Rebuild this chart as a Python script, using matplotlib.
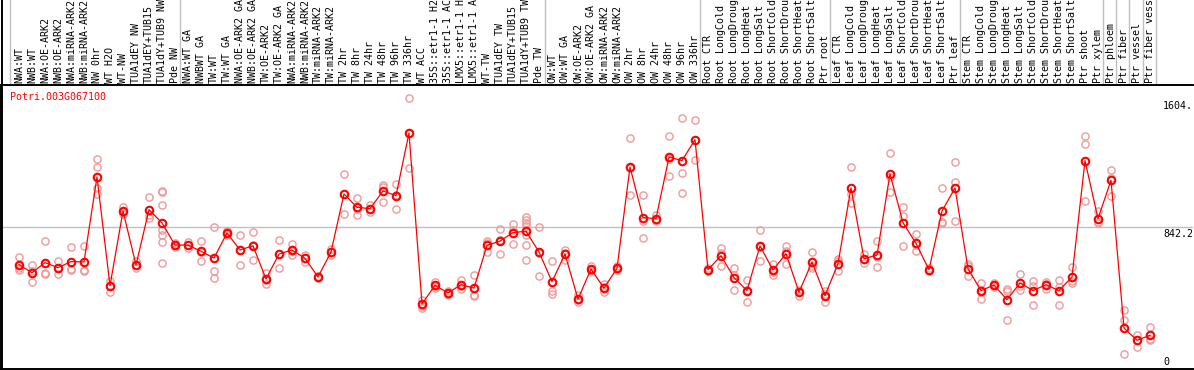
import matplotlib
matplotlib.use("Agg")
import matplotlib.pyplot as plt
from matplotlib.lines import Line2D
from matplotlib import transforms

gene = "Potri.003G067100"

labels = [
    "NWA:WT", "NWB:WT", "NWA:OE-ARK2", "NWB:OE-ARK2", "NWA:miRNA-ARK2",
    "NWB:miRNA-ARK2", "NW 0hr", "WT H2O", "WT-NW", "TUA1dEY NW",
    "TUA1dEY+TUB15", "TUA1dY+TUB9 NW", "Pde NW",
    "NWA:WT GA", "NWBWT GA", "TW:WT", "TW:WT GA", "NWA:OE-ARK2 GA",
    "NWB:OE-ARK2 GA", "TW:OE-ARK2", "TW:OE-ARK2 GA", "NWA:miRNA-ARK2",
    "NWB:miRNA-ARK2", "TW:miRNA-ARK2", "TW:miRNA-ARK2", "TW 2hr", "TW 8hr",
    "TW 24hr", "TW 48hr", "TW 96hr", "TW 336hr", "WT ACC", "35S::etr1-1 H2",
    "35S::etr1-1 AC", "LMX5::etr1-1 H", "LMX5::etr1-1 A", "WT-TW",
    "TUA1dEY TW", "TUA1dEY+TUB15", "TUA1dY+TUB9 TW", "Pde TW",
    "OW:WT", "OW:WT GA", "OW:OE-ARK2", "OW:OE-ARK2 GA", "OW:miRNA-ARK2",
    "OW:miRNA-ARK2", "OW 2hr", "OW 8hr", "OW 24hr", "OW 48hr", "OW 96hr",
    "OW 336hr",
    "Root CTR", "Root LongCold", "Root LongDroug", "Root LongHeat",
    "Root LongSalt", "Root ShortCold", "Root ShortDrou", "Root ShortHeat",
    "Root ShortSalt", "Ptr root",
    "Leaf CTR", "Leaf LongCold", "Leaf LongDroug", "Leaf LongHeat",
    "Leaf LongSalt", "Leaf ShortCold", "Leaf ShortDrou", "Leaf ShortHeat",
    "Leaf ShortSalt", "Ptr leaf",
    "Stem CTR", "Stem LongCold", "Stem LongDroug", "Stem LongHeat",
    "Stem LongSalt", "Stem ShortCold", "Stem ShortDrou", "Stem ShortHeat",
    "Stem ShortSalt", "Ptr shoot", "Ptr xylem",
    "Ptr phloem", "Ptr fiber", "Ptr vessel", "Ptr fiber vess",
]

means = [
    619, 571, 631, 601, 637, 635, 1139, 494, 937, 617, 945, 866, 735,
    735, 698, 658, 807, 706, 731, 534, 682, 706, 656, 546, 694, 1038, 959,
    951, 1056, 1028, 1400, 386, 496, 451, 500, 480, 733, 759, 809, 817, 694,
    518, 682, 415, 593, 480, 597, 1198, 898, 892, 1257, 1236, 1360,
    589, 672, 542, 465, 730, 587, 684, 455, 635, 435,
    625, 1074, 654, 676, 1157, 868, 745, 589, 937, 1074,
    595, 465, 498, 411, 510, 465, 500, 465, 546, 1236, 892,
    1119, 243, 170, 200,
]

reps = [
    [666, 599, 585], [615, 579, 516], [759, 571, 561], [641, 599, 563],
    [724, 595, 589], [731, 589, 583], [1246, 1198, 1074, 1038],
    [520, 490, 457], [961, 929, 919], [639, 615, 597], [1022, 915, 898],
    [1058, 1050, 973, 826, 797, 753, 631], [747, 735, 724],
    [755, 735, 720], [759, 694, 641], [844, 583, 540], [817, 807, 797],
    [797, 706, 615], [813, 735, 646], [569, 530, 504], [765, 682, 599],
    [741, 702, 674], [676, 656, 637], [554, 546, 538], [712, 692, 678],
    [1159, 1038, 919], [1016, 949, 911], [971, 949, 933],
    [1093, 1081, 992], [1099, 1034, 951], [1604.6, 1400, 1192],
    [411, 372, 362], [516, 490, 482], [461, 447, 441], [530, 494, 476],
    [559, 441, 431], [757, 747, 692], [830, 763, 682], [860, 826, 741],
    [900, 886, 866, 846, 793, 735, 646], [842, 688, 552],
    [641, 465, 443], [708, 688, 648], [441, 407, 399], [613, 587, 579],
    [502, 484, 455], [609, 593, 589], [1370, 1192, 1032], [1032, 880, 777],
    [915, 882, 876], [1382, 1246, 1145], [1489, 1162, 1044],
    [1477, 1360, 1242],
    [599, 589, 579], [718, 688, 611], [599, 558, 469], [528, 469, 397],
    [824, 724, 641], [625, 577, 559], [731, 698, 623], [471, 459, 435],
    [694, 611, 599], [461, 447, 397],
    [652, 639, 583], [1198, 1038, 985], [684, 650, 629], [759, 664, 605],
    [1283, 1137, 1050], [963, 909, 730], [801, 737, 697], [599, 589, 579],
    [1075, 870, 866], [1228, 1111, 880],
    [623, 609, 554], [510, 469, 415], [510, 498, 486], [474, 465, 293],
    [565, 494, 471], [520, 494, 380], [518, 506, 476], [528, 486, 380],
    [605, 522, 510], [1382, 1334, 996], [935, 874, 866],
    [1182, 1133, 1026], [352, 293, 89], [204, 174, 130], [249, 180, 170],
]

y_mid = 842.2
y_top = 1684.4
y_marks = ["1604.", "842.2", "0"]

# positions of the grey separators between sample groups
separators = [-0.7, 12.4, 40.45, 52.4, 62.4, 72.4, 83.4, 84.4, 85.4, 86.45, 87.45]

W, H = 1194, 370
fig = plt.figure(figsize=(W / 100, H / 100), dpi=100)
fig.patch.set_facecolor("white")

ax = fig.add_axes([1 / W, 1 / H, 1192 / W, 284 / H])
ax.set_xlim((1 - 19) / 13, (1193 - 19) / 13)
ax.set_ylim(0, y_top)
ax.set_xticks([])
ax.set_yticks([])
for s in ["top", "bottom", "left"]:
    ax.spines[s].set_color("black")
    ax.spines[s].set_linewidth(1.4)
ax.spines["right"].set_visible(False)

grey = "#c0c0c0"
mono = "DejaVu Sans Mono"

# vertical separators run through the label band too
trans = transforms.blended_transform_factory(ax.transData, fig.transFigure)
for sx in separators:
    fig.add_artist(Line2D([sx, sx], [1 / H, 1.0], transform=trans,
                          color=grey, lw=1.0, zorder=0))
fig.add_artist(Line2D([1.5 / W, 1.5 / W], [0, 1], transform=fig.transFigure,
                      color="black", lw=1.4))
ax.axhline(y_mid, color=grey, lw=1.0, zorder=0)

x = list(range(len(labels)))
rx, ry = [], []
for i, r in enumerate(reps):
    rx += [i] * len(r)
    ry += r
ax.plot(rx, ry, "o", ms=5.2, mfc="none", mec="#ee9a9a", mew=1.0, zorder=2)
ax.plot(x, means, "-", color="#ff0000", lw=0.9, zorder=3)
ax.plot(x, means, "o", ms=5.4, mfc="none", mec="#ff0000", mew=1.5, zorder=4)

# rotated sample labels above the plot
lab_trans = transforms.blended_transform_factory(ax.transData, fig.transFigure)
for i, lab in enumerate(labels):
    fig.text(i, (H - 83) / H, lab, transform=lab_trans, rotation=90,
             ha="center", va="bottom", family=mono, fontsize=7.2)

fig.text(10 / W, (H - 92) / H, gene, color="#ff0000", family=mono,
         fontsize=7.2, ha="left", va="top")

for txt, ypx, va in zip(y_marks, [101, 229, 367], ["top", "top", "bottom"]):
    fig.text(1163 / W, (H - ypx) / H, txt, family=mono, fontsize=7.2,
             ha="left", va=va)

fig.savefig("out.png", dpi=100)
